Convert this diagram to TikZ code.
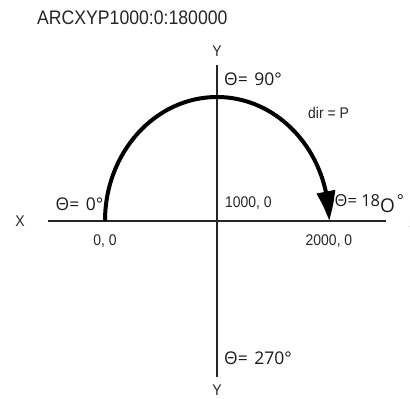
\documentclass[tikz,border=0pt]{standalone}
\usepackage{fontspec}
\setmainfont{Liberation Sans}
\newfontfamily\narrowfont[FakeStretch=0.9]{Liberation Sans}
\newfontfamily\thetafont{Open Sans}
\usetikzlibrary{arrows.meta,bending}
\begin{document}
\begin{tikzpicture}[x=1pt,y=-1pt,
  axis/.style={line width=1.2pt,draw=black!85},
  lbl/.style={inner sep=0pt,font=\narrowfont\fontsize{15.5}{15.5}\selectfont,text=black!85},
  thlbl/.style={inner sep=0pt,anchor=base west,font=\thetafont\fontsize{17.5}{17.5}\selectfont,text=black!90},
  arcline/.style={line width=4pt,-{Triangle[length=30pt,width=18pt,bend]}}]
\useasboundingbox (0,0) rectangle (410,399);
\clip (0,0) rectangle (410,399);
\node[inner sep=0pt,font=\narrowfont\fontsize{19.6}{19.6}\selectfont,text=black!85,anchor=west] (title) at (37,18) {ARCXYP1000:0:180000};
% axes
\coordinate (xl) at (48,221);
\coordinate (xr) at (386,221);
\coordinate (yt) at (217,65);
\coordinate (yb) at (217,377);
\draw[axis] (xl) -- (xr);
\draw[axis] (yt) -- (yb);
\node[lbl] (xleft) at (20,221) {X};
\node[lbl] (xright) at (414,222) {X};
\node[lbl] (ytop) at (217,51) {Y};
\node[lbl] (ybot) at (217,390) {Y};
% labels
\node[thlbl] (t90) at (224,85.5) {Θ=\hspace{2pt} 90°};
\node[lbl,anchor=west] (dir) at (308,113) {dir = P};
\node[thlbl] (t0) at (55.5,210) {Θ=\hspace{2pt} 0°};
\node[lbl,anchor=west] (c1000) at (225,203) {1000, 0};
\node[thlbl,font=\thetafont\fontsize{16.5}{16.5}\selectfont] (t180) at (334.5,206) {Θ= 18\raisebox{-6.5pt}{\fontsize{19}{19}\selectfont O}\hspace{2pt}°};
\node[lbl] (c00) at (105,241) {0, 0};
\node[lbl] (c2000) at (329,241) {2000, 0};
\node[thlbl] (t270) at (224,364) {Θ=\hspace{2pt} 270°};
% arc
\coordinate (start) at (105,221);
\draw[arcline] (start) arc[start angle=180,end angle=360,x radius=112,y radius=124] coordinate (end);
\end{tikzpicture}
\end{document}
